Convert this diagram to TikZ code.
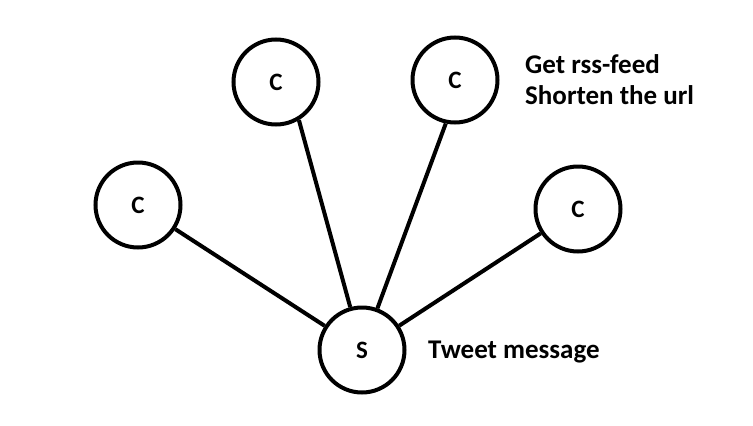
\documentclass[tikz,border=0pt]{standalone}
\usepackage{fontspec}
\setmainfont{Carlito}
\tikzset{
	peer/.style={draw, circle, line width=4pt, minimum size=85pt, inner sep=0pt, font=\fontsize{25}{30}\selectfont\bfseries},
	note/.style={anchor=base west, inner sep=0pt, font=\fontsize{27}{31}\selectfont\bfseries}
}
\begin{document}
\begin{tikzpicture}[x=1pt, y=-1pt]
			\useasboundingbox (0,0) rectangle (753,426);
			\node[peer] (c1) at (138,205) {C};
			\node[peer] (c2) at (276,82) {C};
			\node[peer] (c3) at (455,80) {C};
			\node[peer] (c4) at (578,209) {C};
			\node[peer] (s) at (362,350) {S};
			\node[note] (feed) at (525,73) {Get rss-feed};
			\node[note] (url) at (525,104) {Shorten the url};
			\node[note] (tweet) at (428,358) {Tweet message};
			\path[line width=4pt]
			(c1) edge (s)
			(c2.-59) edge (s)
			(c3.-102) edge (s)
			(c4) edge (s);
		\end{tikzpicture}
\end{document}
